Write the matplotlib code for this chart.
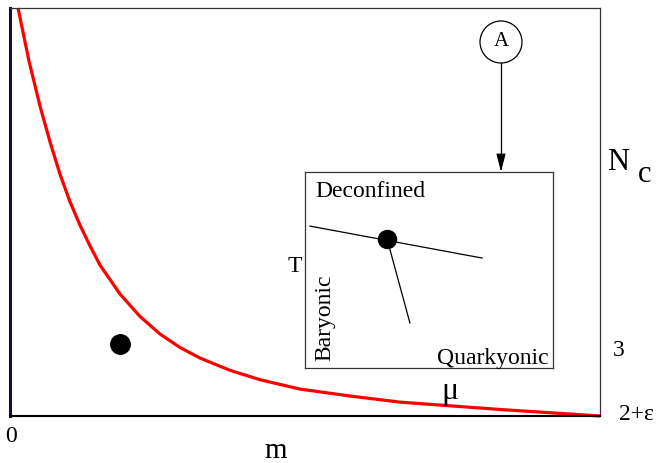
import matplotlib
matplotlib.use("Agg")
import matplotlib.pyplot as plt
from matplotlib.patches import Ellipse

# ---- data (normalized: m in [0,1], Nc in [0,1] of the box) ----
curve_m = [0.0136, 0.0322, 0.0508, 0.0678, 0.0847, 0.1017, 0.1186, 0.1356,
           0.1525, 0.1864, 0.2203, 0.2542, 0.2881, 0.3220, 0.3729, 0.4237,
           0.4915, 0.5763, 0.6610, 0.7458, 0.8305, 0.9153, 1.0]
curve_nc = [1.0, 0.870, 0.760, 0.672, 0.593, 0.525, 0.468, 0.417,
            0.370, 0.299, 0.244, 0.201, 0.168, 0.142, 0.112, 0.089,
            0.066, 0.049, 0.034, 0.025, 0.016, 0.008, 0.0]
point_m = [0.186]
point_nc = [0.176]

# inset phase diagram (mu, T normalized)
line1_mu = [0.020, 0.714]
line1_T = [0.724, 0.561]
line2_mu = [0.331, 0.423]
line2_T = [0.658, 0.230]
crit_mu = [0.331]
crit_T = [0.658]

W, H = 657, 463
plt.rcParams['font.family'] = ['Liberation Serif', 'DejaVu Serif']
fig = plt.figure(figsize=(W / 100, H / 100), dpi=100)

def fx(px):
    return px / W

def fy(py):
    return 1 - py / H

# main axes box: x 10..600, y 8..416 (pixels)
ax = fig.add_axes([fx(10), fy(416), (600 - 10) / W, (416 - 8) / H])
ax.set_xlim(0, 1)
ax.set_ylim(0, 1)
ax.set_xticks([])
ax.set_yticks([])
for s in ['top', 'right']:
    ax.spines[s].set_color('#333333')
    ax.spines[s].set_linewidth(0.9)
ax.spines['left'].set_color('#101040')
ax.spines['left'].set_linewidth(2.2)
ax.spines['bottom'].set_color('black')
ax.spines['bottom'].set_linewidth(1.5)

ax.plot(curve_m, curve_nc, color='#ff0000', lw=2.3, solid_capstyle='butt',
        solid_joinstyle='round', clip_on=False)
ax.plot(point_m, point_nc, 'o', color='black', ms=14)

# inset axes: x 305..553, y 172..368
axi = fig.add_axes([fx(305), fy(368), (553 - 305) / W, (368 - 172) / H])
axi.set_xlim(0, 1)
axi.set_ylim(0, 1)
axi.set_xticks([])
axi.set_yticks([])
for s in axi.spines.values():
    s.set_color('#333333')
    s.set_linewidth(0.9)
axi.plot(line1_mu, line1_T, color='black', lw=0.9)
axi.plot(line2_mu, line2_T, color='black', lw=0.9)
axi.plot(crit_mu, crit_T, 'o', color='black', ms=13)

fs = 17
axi.text(0.262, 0.903, 'Deconfined', transform=axi.transAxes, fontsize=fs,
         ha='center', va='center')
axi.text(0.758, 0.051, 'Quarkyonic', transform=axi.transAxes, fontsize=fs,
         ha='center', va='center')
axi.text(0.081, 0.255, 'Baryonic', transform=axi.transAxes, fontsize=fs,
         ha='center', va='center', rotation=90)

# labels in figure pixel coordinates
fig.text(fx(295), fy(267), 'T', fontsize=fs, ha='center', va='center')
fig.text(fx(450), fy(391), 'μ', fontsize=23, ha='center', va='center')
fig.text(fx(618), fy(162), 'N', fontsize=22, ha='center', va='center')
fig.text(fx(645), fy(175), 'c', fontsize=22, ha='center', va='center')
fig.text(fx(619), fy(351), '3', fontsize=17, ha='center', va='center')
fig.text(fx(636), fy(414), '2+ε', fontsize=17, ha='center', va='center')
fig.text(fx(11), fy(436), '0', fontsize=17, ha='center', va='center')
fig.text(fx(276), fy(458), 'm', fontsize=21, ha='center', va='baseline')

# circled A with arrow
circ = Ellipse((fx(501), fy(42)), 42 / W, 42 / H, transform=fig.transFigure,
               fill=False, ec='black', lw=0.9)
fig.patches.append(circ)
fig.text(fx(501), fy(42), 'A', fontsize=15, ha='center', va='center')
fig.add_artist(plt.Line2D([fx(501), fx(501)], [fy(63), fy(158)],
                          transform=fig.transFigure, color='black', lw=0.9))
ax.annotate('', xy=(fx(501), fy(172)), xytext=(fx(501), fy(157)),
            xycoords='figure fraction', textcoords='figure fraction',
            arrowprops=dict(arrowstyle='-|>,head_length=1.1,head_width=0.28',
                            color='black', lw=0.9, shrinkA=0, shrinkB=0))

fig.savefig('out.png', dpi=100)
